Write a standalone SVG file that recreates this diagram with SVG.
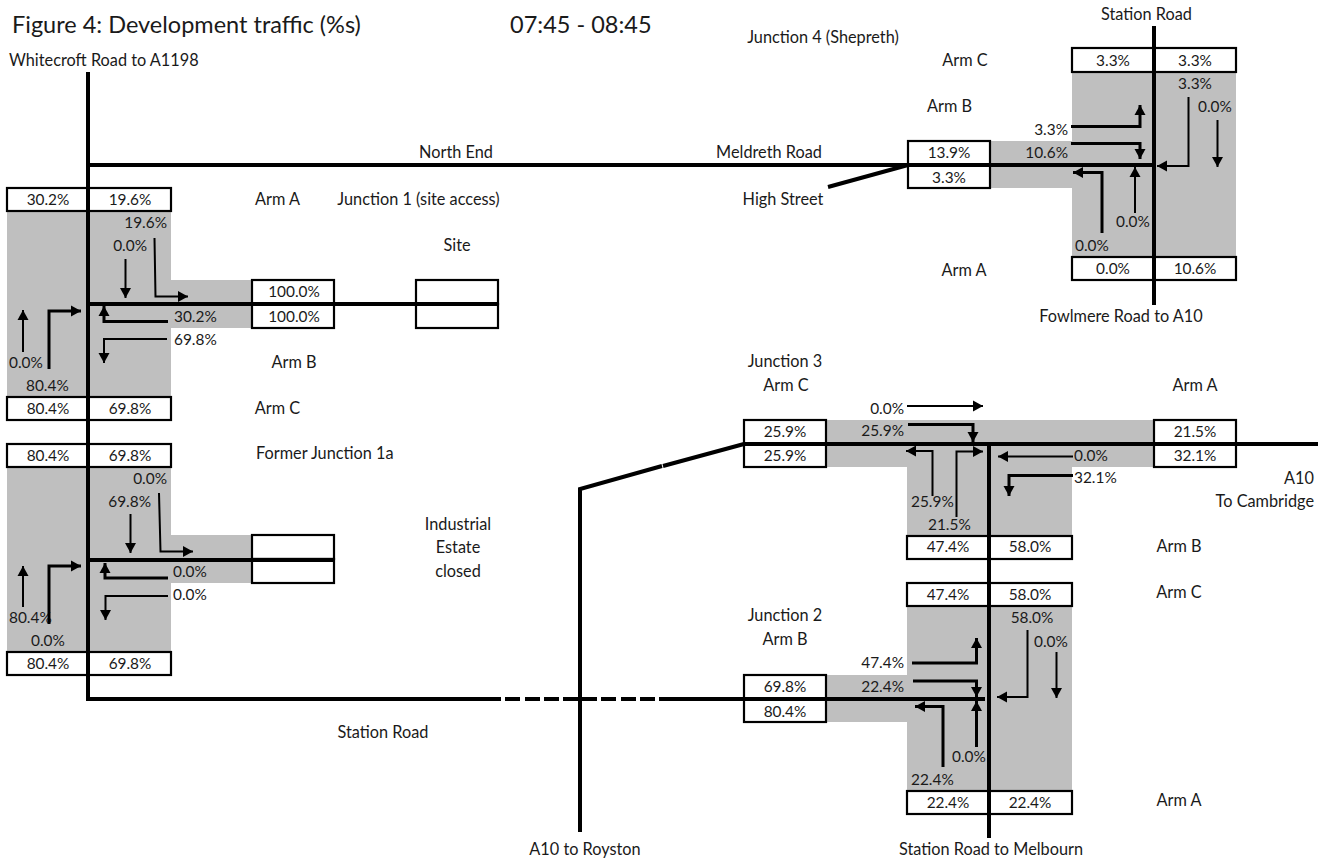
<svg xmlns="http://www.w3.org/2000/svg" width="1324" height="863" viewBox="0 0 1324 863">
<style>
text{font-family:"Lato","Carlito","Liberation Sans",sans-serif;font-size:15.4px;fill:#1a1a1a}
#labels text{font-size:16.3px}
#labels text.t{font-size:23.5px}
.m{text-anchor:middle}.e{text-anchor:end}
.g{fill:#bfbfbf;stroke:none}
.b{fill:#fff;stroke:#000;stroke-width:2.2}
.r{fill:none;stroke:#000;stroke-width:4}
.a{fill:none;stroke:#000;stroke-width:2;marker-end:url(#h)}
.a3{fill:none;stroke:#000;stroke-width:3;marker-end:url(#h)}
</style>
<defs><marker id="h" markerUnits="userSpaceOnUse" markerWidth="11" markerHeight="12" refX="10" refY="6" orient="auto"><path d="M0 0.500L10 6L0 11.500Z" fill="#000"/></marker></defs>
<g id="shading">
<path class="g" d="M7 211H171V280H252V328H171V397H7Z"/>
<path class="g" d="M7 467H171V535H252V583H171V652H7Z"/>
<path class="g" d="M1072 72H1236V257H1072V188H990V141H1072Z"/>
<path class="g" d="M826 420H1154V467H1072V536H907V467H826Z"/>
<path class="g" d="M907 606H1072V791H907V722H826V675H907Z"/>
</g>
<g id="node-j1">
<rect class="b" x="7" y="188" width="81" height="23"/><rect class="b" x="88" y="188" width="83" height="23"/>
<rect class="b" x="7" y="397" width="81" height="23"/><rect class="b" x="88" y="397" width="83" height="23"/>
<rect class="b" x="252" y="280" width="82" height="24"/><rect class="b" x="252" y="304" width="82" height="24"/>
<rect class="b" x="416" y="280" width="82" height="24"/><rect class="b" x="416" y="304" width="82" height="24"/>
<text class="m" x="48" y="205">30.2%</text><text class="m" x="130" y="205">19.6%</text>
<text class="m" x="48" y="414">80.4%</text><text class="m" x="130" y="414">69.8%</text>
<text class="m" x="294" y="297">100.0%</text><text class="m" x="294" y="322">100.0%</text>
<text class="e" x="167" y="228">19.6%</text><text class="e" x="147" y="251">0.0%</text>
<text x="174" y="322">30.2%</text><text x="174" y="345">69.8%</text>
<text x="9" y="368">0.0%</text><text x="26" y="391">80.4%</text>
</g>
<g id="node-j1a">
<rect class="b" x="7" y="444" width="81" height="23"/><rect class="b" x="88" y="444" width="83" height="23"/>
<rect class="b" x="7" y="652" width="81" height="23"/><rect class="b" x="88" y="652" width="83" height="23"/>
<rect class="b" x="252" y="535" width="82" height="24"/><rect class="b" x="252" y="559" width="82" height="24"/>
<text class="m" x="48" y="461">80.4%</text><text class="m" x="130" y="461">69.8%</text>
<text class="m" x="48" y="669">80.4%</text><text class="m" x="130" y="669">69.8%</text>
<text class="e" x="167" y="484">0.0%</text><text class="e" x="151" y="507">69.8%</text>
<text x="173" y="577">0.0%</text><text x="173" y="600">0.0%</text>
<text x="9" y="623">80.4%</text><text x="31" y="646">0.0%</text>
</g>
<g id="node-j4">
<rect class="b" x="1072" y="48" width="82" height="24"/><rect class="b" x="1154" y="48" width="82" height="24"/>
<rect class="b" x="1072" y="257" width="82" height="23"/><rect class="b" x="1154" y="257" width="82" height="23"/>
<rect class="b" x="908" y="141" width="82" height="24"/><rect class="b" x="908" y="165" width="82" height="23"/>
<text class="m" x="1113" y="66">3.3%</text><text class="m" x="1195" y="66">3.3%</text>
<text class="m" x="1113" y="274">0.0%</text><text class="m" x="1195" y="274">10.6%</text>
<text class="m" x="949" y="158">13.9%</text><text class="m" x="949" y="183">3.3%</text>
<text class="m" x="1195" y="89">3.3%</text><text x="1198" y="112">0.0%</text>
<text class="e" x="1068" y="135">3.3%</text><text class="e" x="1068" y="158">10.6%</text>
<text x="1116" y="227">0.0%</text><text x="1075" y="251">0.0%</text>
</g>
<g id="node-j3">
<rect class="b" x="744" y="420" width="82" height="24"/><rect class="b" x="744" y="444" width="82" height="23"/>
<rect class="b" x="1154" y="420" width="82" height="24"/><rect class="b" x="1154" y="444" width="82" height="23"/>
<rect class="b" x="907" y="536" width="82" height="23"/><rect class="b" x="989" y="536" width="83" height="23"/>
<text class="m" x="785" y="437">25.9%</text><text class="m" x="785" y="461">25.9%</text>
<text class="m" x="1195" y="437">21.5%</text><text class="m" x="1195" y="461">32.1%</text>
<text class="m" x="948" y="552">47.4%</text><text class="m" x="1030" y="552">58.0%</text>
<text class="e" x="904" y="414">0.0%</text><text class="e" x="904" y="436">25.9%</text>
<text x="911" y="507">25.9%</text><text x="928" y="530">21.5%</text>
<text x="1074" y="461">0.0%</text><text x="1074" y="483">32.1%</text>
</g>
<g id="node-j2">
<rect class="b" x="907" y="583" width="82" height="23"/><rect class="b" x="989" y="583" width="83" height="23"/>
<rect class="b" x="907" y="791" width="82" height="23"/><rect class="b" x="989" y="791" width="83" height="23"/>
<rect class="b" x="744" y="675" width="82" height="24"/><rect class="b" x="744" y="699" width="82" height="23"/>
<text class="m" x="948" y="600">47.4%</text><text class="m" x="1030" y="600">58.0%</text>
<text class="m" x="948" y="808">22.4%</text><text class="m" x="1030" y="808">22.4%</text>
<text class="m" x="785" y="692">69.8%</text><text class="m" x="785" y="717">80.4%</text>
<text class="m" x="1032" y="623">58.0%</text><text x="1034" y="647">0.0%</text>
<text class="e" x="904" y="668">47.4%</text><text class="e" x="904" y="692">22.4%</text>
<text x="952" y="762">0.0%</text><text x="911" y="785">22.4%</text>
</g>
<g id="connectors">
<path class="r" d="M88 72V701"/>
<path class="r" d="M88 165H1156"/>
<path class="r" d="M88 304H498"/>
<path class="r" d="M88 560H335"/>
<path class="r" d="M88 699H501M505 699H520M525 699H540M544 699H559M563 699H597M601 699H616M621 699H636M640 699H655M659 699H985"/>
<path class="r" d="M1154 26V305"/>
<path class="r" d="M828 187L908 165"/>
<path class="r" d="M744 444H1318"/>
<path class="r" d="M989 444V838"/>
<path class="r" d="M580 832V489L662 466M663 466L744 444"/>
<path class="a" d="M154.500 238L155.500 296.500H188"/>
<path class="a" d="M125.500 259V298"/>
<path class="a3" d="M168 321.500H104V306"/>
<path class="a" d="M167 339H104V363"/>
<path class="a" d="M23 352V310"/>
<path class="a3" d="M49 369V311H81"/>
<path class="a" d="M159 493L160.500 551.500H193"/>
<path class="a" d="M130.500 514V553"/>
<path class="a3" d="M168 578H105V563"/>
<path class="a" d="M168 596H105.500V620"/>
<path class="a" d="M23 607V566"/>
<path class="a3" d="M49 624V566H81"/>
<path class="a3" d="M1071 126.500H1140V105"/>
<path class="a3" d="M1071 143.500H1140V159"/>
<path class="a" d="M1188.500 97V166H1157"/>
<path class="a" d="M1217.500 120V167"/>
<path class="a3" d="M1102 233V172.500H1073"/>
<path class="a" d="M1135 213V167"/>
<path class="a" d="M907 406H983"/>
<path class="a3" d="M908 424.500H973V442"/>
<path class="a" d="M932.500 496V451H906"/>
<path class="a" d="M956.500 517V451.500H983"/>
<path class="a" d="M1073 456.500H998"/>
<path class="a3" d="M1073 475.500H1009V496"/>
<path class="a3" d="M912 663H976.500V638"/>
<path class="a3" d="M913 681H976.500V697"/>
<path class="a" d="M1027.500 630V697H997"/>
<path class="a" d="M1056.500 652V698"/>
<path class="a3" d="M943 767V706.500H915"/>
<path class="a3" d="M976.500 747V701"/>
</g>
<g id="labels">
<text class="t" x="12" y="33">Figure 4: Development traffic (%s)</text>
<text class="t" x="510" y="33">07:45 - 08:45</text>
<text x="9" y="66">Whitecroft Road to A1198</text>
<text class="m" x="823" y="43">Junction 4 (Shepreth)</text>
<text class="m" x="1146.500" y="20">Station Road</text>
<text class="m" x="965" y="66">Arm C</text>
<text class="m" x="949.500" y="112">Arm B</text>
<text class="m" x="964" y="276">Arm A</text>
<text class="m" x="456" y="158">North End</text>
<text class="m" x="769" y="158">Meldreth Road</text>
<text class="m" x="783" y="205">High Street</text>
<text class="m" x="277.500" y="205">Arm A</text>
<text class="m" x="418.500" y="205">Junction 1 (site access)</text>
<text class="m" x="457" y="251">Site</text>
<text class="m" x="294" y="368">Arm B</text>
<text class="m" x="277.500" y="414">Arm C</text>
<text x="256" y="459">Former Junction 1a</text>
<text class="m" x="458" y="530">Industrial</text>
<text class="m" x="458" y="553">Estate</text>
<text class="m" x="458" y="577">closed</text>
<text class="m" x="383" y="738">Station Road</text>
<text class="m" x="1121" y="322">Fowlmere Road to A10</text>
<text class="m" x="785" y="367">Junction 3</text>
<text class="m" x="786" y="391">Arm C</text>
<text class="m" x="1195" y="391">Arm A</text>
<text class="e" x="1314" y="484">A10</text>
<text class="e" x="1314" y="507">To Cambridge</text>
<text class="m" x="1179" y="552">Arm B</text>
<text class="m" x="1179" y="598">Arm C</text>
<text class="m" x="785" y="621">Junction 2</text>
<text class="m" x="785" y="645">Arm B</text>
<text class="m" x="1179" y="806">Arm A</text>
<text class="m" x="585" y="855">A10 to Royston</text>
<text class="m" x="991" y="855">Station Road to Melbourn</text>
</g>
</svg>
